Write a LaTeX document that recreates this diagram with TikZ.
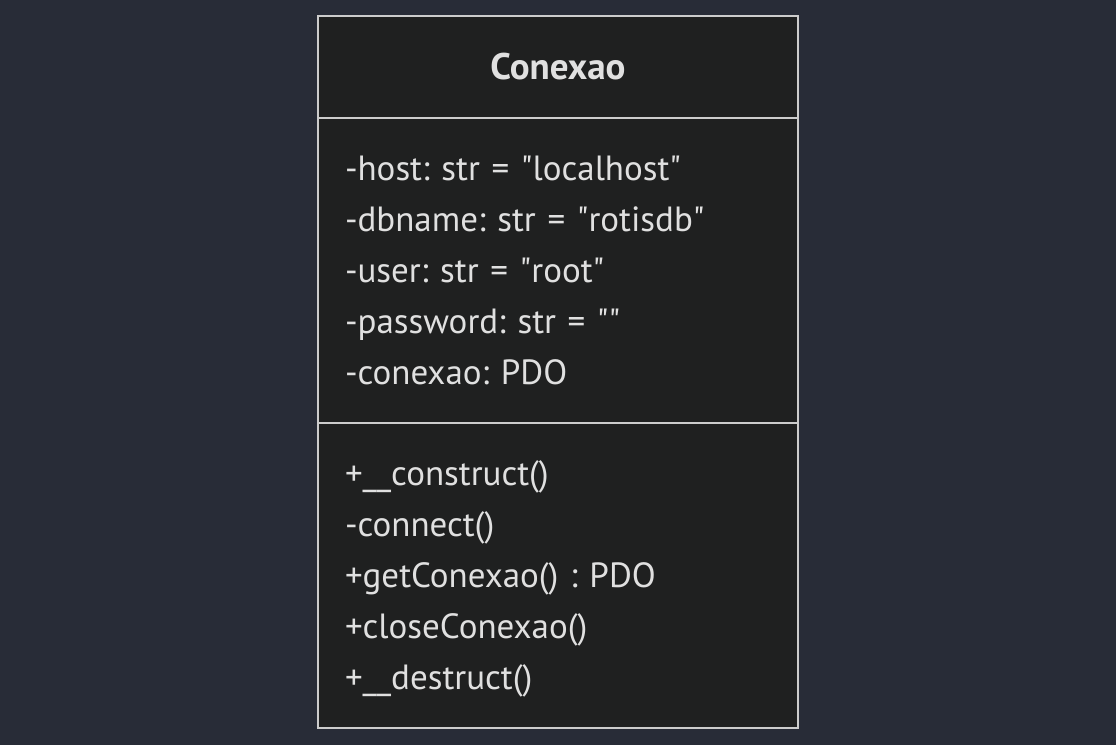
\documentclass[tikz,border=0pt]{standalone}
\usepackage{fontspec}
\setmainfont{PT Sans}
\usetikzlibrary{positioning}
\definecolor{PageBg}{HTML}{282C37}
\definecolor{BoxFill}{HTML}{1F2020}
\definecolor{BoxLine}{HTML}{CCCCCC}
\definecolor{TextGray}{HTML}{E0E0E0}
\newcommand{\dq}{\textquotedbl}
\newcommand{\topstrut}{\rule{0pt}{19.9pt}}

\begin{document}
\frenchspacing
\begin{tikzpicture}[x=0.5pt, y=-0.5pt,
	classpart/.style={draw=BoxLine, fill=BoxFill, line width=1pt, text=TextGray,
		minimum width=240pt, inner xsep=13.5pt, inner ysep=0pt, outer sep=0pt,
		font=\fontsize{17.5}{25.5}\selectfont},
	classhead/.style={classpart, minimum height=51pt, align=center, font=\fontsize{18.5}{25.5}\selectfont\bfseries},
	classbody/.style={classpart, minimum height=152.5pt, text width=213pt, align=left}]
	\fill[PageBg] (0,0) rectangle (1116,745);
	\node[classhead] (head) at (558,67) {Conexao};
	\node[classbody, below=0pt of head] (attrs) {\topstrut-host: str = \dq localhost\dq\\
		-dbname: str = \dq rotisdb\dq\\
		-user: str = \dq root\dq\\
		-password: str = \dq\dq\\
		-conexao: PDO\strut};
	\node[classbody, below=0pt of attrs] (methods) {\topstrut+\_\_construct()\\
		-connect()\\
		+getConexao() : PDO\\
		+closeConexao()\\
		+\_\_destruct()\strut};
\end{tikzpicture}
\end{document}
